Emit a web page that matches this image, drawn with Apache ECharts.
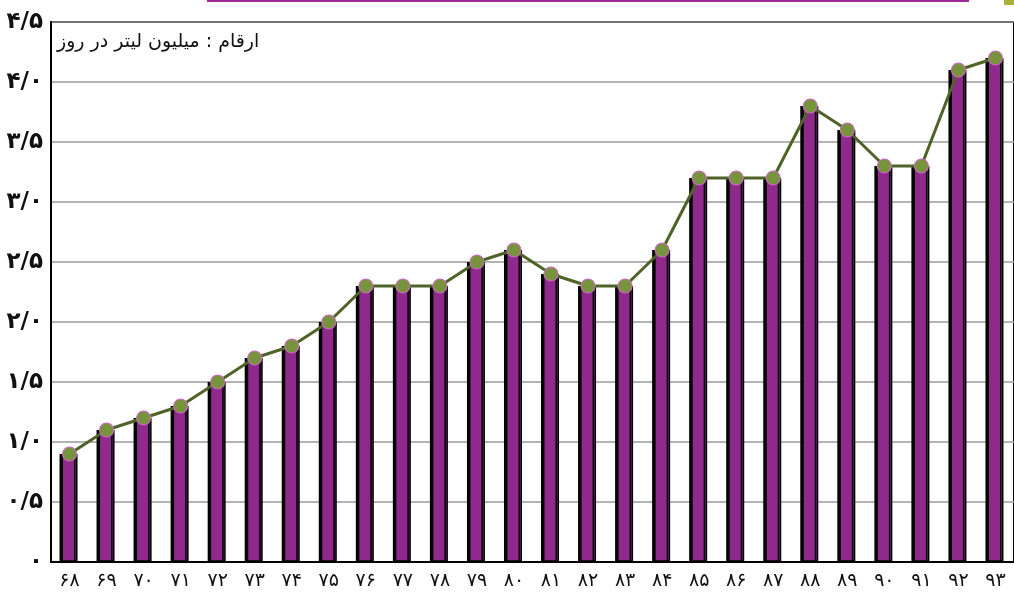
<!DOCTYPE html>
<html><head><meta charset="utf-8">
<script src="https://cdn.jsdelivr.net/npm/echarts@6/dist/echarts.min.js"></script>
<style>html,body{margin:0;padding:0;background:#fff}#c{width:1014px;height:598px}</style>
</head><body><div id="c"></div>
<script>
const years = ['68','69','70','71','72','73','74','75','76','77','78','79','80','81','82','83','84','85','86','87','88','89','90','91','92','93'];
const values = [0.9,1.1,1.2,1.3,1.5,1.7,1.8,2.0,2.3,2.3,2.3,2.5,2.6,2.4,2.3,2.3,2.6,3.2,3.2,3.2,3.8,3.6,3.3,3.3,4.1,4.2];
const unitNote = 'ارقام : میلیون لیتر در روز';

const fa = s => String(s).replace(/[0-9]/g, d => '۰۱۲۳۴۵۶۷۸۹'[d]);
const font = '"DejaVu Sans",sans-serif';

const chart = echarts.init(document.getElementById('c'));
chart.setOption({
  animation: false,
  grid: {left: 51, right: -3, top: 22, bottom: 36, show: true, borderColor: '#000', borderWidth: 2, backgroundColor: 'transparent'},
  xAxis: {
    type: 'category', data: years,
    axisLine: {lineStyle: {color: '#000', width: 2}},
    axisTick: {show: false},
    axisLabel: {formatter: v => fa(v), color: '#111', fontSize: 19, fontFamily: font, margin: 9, lineHeight: 20}
  },
  yAxis: {
    type: 'value', min: 0, max: 4.5, interval: 0.5,
    axisLine: {show: true, lineStyle: {color: '#000', width: 2}},
    axisTick: {show: false},
    splitLine: {lineStyle: {color: '#9a9a9a', width: 1.5}},
    axisLabel: {formatter: v => v === 0 ? '۰' : fa(v.toFixed(1).replace('.', '/')), color: '#111', fontSize: 23, fontWeight: 'bold', fontFamily: font, margin: 8}
  },
  series: [
    {type: 'bar', data: values, barWidth: 16,
     itemStyle: {color: '#8f2a8c', borderColor: '#000', borderWidth: 1.5, shadowColor: '#000', shadowOffsetX: -2, shadowBlur: 0}},
    {type: 'line', data: values, symbol: 'circle', symbolSize: 14,
     lineStyle: {color: '#4f6228', width: 3},
     itemStyle: {color: '#77933c', borderColor: '#c86bc0', borderWidth: 1.2}}
  ],
  graphic: [
    {type: 'rect', shape: {x: 207, y: 0, width: 762, height: 2}, style: {fill: '#9b2a95'}},
    {type: 'rect', shape: {x: 1004, y: 0, width: 10, height: 5}, style: {fill: '#a9b038'}},
    {type: 'text', left: 57, top: 33, style: {text: unitNote, fontSize: 19, fontFamily: font, fill: '#111'}}
  ]
});
</script></body></html>
